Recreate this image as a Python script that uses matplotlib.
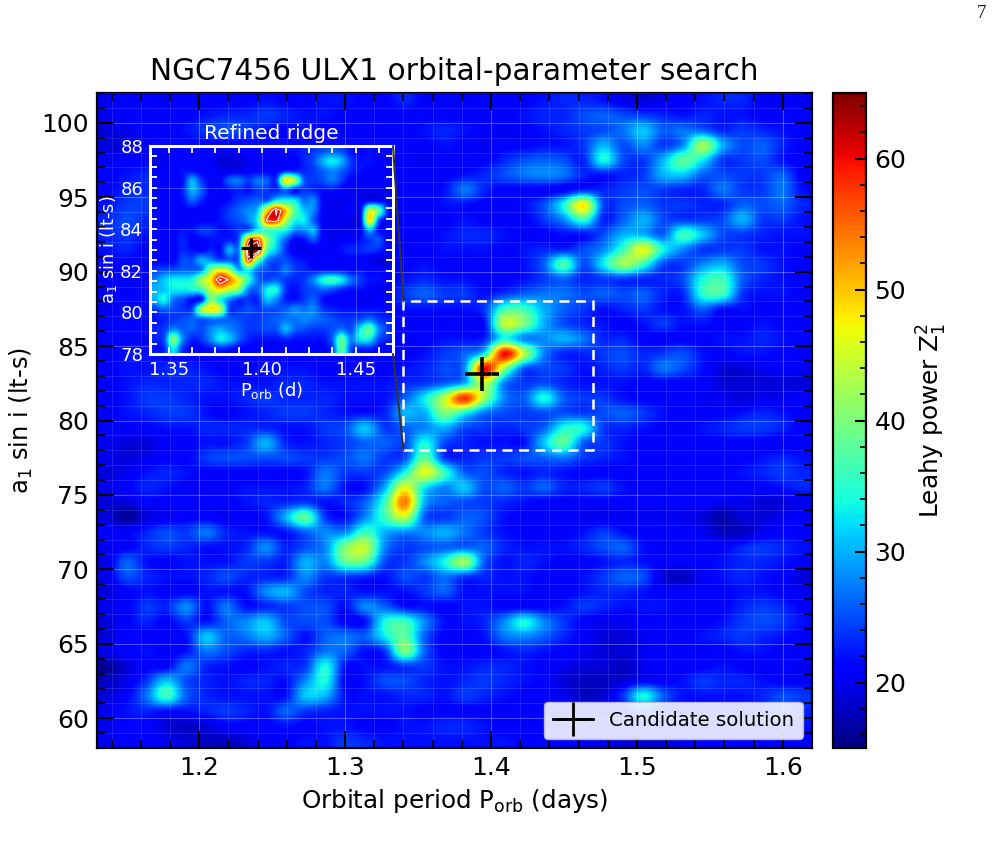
import numpy as np
import matplotlib
matplotlib.use("Agg")
import matplotlib.pyplot as plt
from matplotlib.lines import Line2D
from matplotlib.patches import Rectangle, ConnectionPatch
from matplotlib.ticker import MultipleLocator

plt.rcParams["font.family"] = "DejaVu Sans"
plt.rcParams["mathtext.default"] = "regular"

TITLE = "NGC7456 ULX1 orbital-parameter search"
PERIOD_RANGE = [1.13, 1.62]
A_SINI_RANGE = [58, 102]
POWER_RANGE = [15, 65]
CANDIDATE = [1.394, 83.1]
ZOOM_PERIOD = [1.34, 1.47]
ZOOM_A_SINI = [78, 88]

# Leahy power on the wide search grid, first row at the largest a1 sin i
wide_power = [
    [20,21,21,20,21,21, 21,21,22,21,21,22, 22,21,21,23,21,21, 21,21,21,21,22,23, 23,22,20,19,20,21, 22,23,23,21,21,20],
    [20,21,21,21,21,22, 23,23,24,23,22,22, 21,21,21,21,21,21, 21,21,21,22,23,23, 25,26,25,24,23,22, 23,22,22,21,21,21],
    [19,20,21,21,22,24, 25,24,22,21,22,21, 21,21,21,21,22,23, 22,21,20,21,22,23, 24,25,27,31,26,27, 26,23,24,23,22,21],
    [19,19,20,21,21,21, 21,21,21,21,21,21, 21,21,21,21,21,22, 21,20,21,21,22,22, 24,30,25,28,24,28, 42,30,25,26,23,21],
    [20,21,21,21,21,21, 21,21,21,21,21,21, 21,21,21,21,20,21, 21,21,23,25,26,25, 23,34,25,24,30,38, 33,24,24,25,22,21],
    [21,22,23,21,21,21, 21,21,21,21,21,21, 21,21,21,21,21,21, 22,23,25,27,28,27, 23,22,23,24,30,31, 26,25,24,24,26,21],
    [21,23,23,21,21,21, 21,21,21,21,21,21, 21,21,21,21,21,22, 27,23,21,21,21,21, 23,23,24,25,24,23, 23,27,24,24,27,22],
    [22,24,24,21,21,21, 21,21,21,21,21,21, 21,21,21,21,21,22, 22,21,21,22,25,34, 48,25,25,26,24,24, 23,23,26,25,26,23],
    [23,25,23,21,21,21, 21,21,21,21,21,21, 21,21,21,21,21,21, 22,21,21,21,24,28, 36,23,26,30,25,24, 24,25,30,24,24,22],
    [23,24,22,21,21,21, 21,21,21,21,21,21, 21,21,21,21,21,22, 23,23,22,21,21,22, 22,25,30,30,26,36, 31,25,24,23,22,22],
    [22,23,21,21,21,21, 21,21,21,21,21,21, 21,21,21,21,21,22, 22,22,21,22,23,23, 25,28,36,46,34,28, 24,24,24,22,22,21],
    [21,21,21,21,21,21, 21,21,21,21,21,21, 21,21,21,21,22,21, 21,21,21,22,26,37, 25,33,42,36,25,24, 28,30,25,24,22,21],
    [21,21,20,21,21,21, 21,21,21,21,21,21, 21,21,21,22,23,22, 22,21,21,22,24,26, 23,24,24,23,23,25, 34,36,26,23,22,21],
    [20,21,21,21,21,21, 21,21,21,21,21,21, 21,21,21,24,26,24, 24,22,24,26,27,27, 25,26,25,26,23,23, 35,36,24,22,22,21],
    [20,21,21,21,21,21, 21,21,21,21,21,21, 21,21,21,22,22,22, 22,24,36,36,30,26, 24,22,23,24,22,22, 26,22,22,21,21,21],
    [21,21,21,21,21,21, 21,21,21,21,21,21, 21,21,21,21,21,21, 21,22,44,40,30,25, 23,22,21,22,24,22, 22,21,21,22,21,21],
    [21,21,20,21,21,21, 21,21,21,21,21,21, 21,21,21,21,21,22, 22,23,34,28,28,30, 27,23,23,21,21,21, 21,22,22,23,22,21],
    [21,22,22,21,21,21, 21,21,21,21,21,21, 21,21,21,21,22,24, 26,33,60,44,28,23, 23,24,25,23,24,25, 22,21,22,22,21,21],
    [21,22,22,23,23,22, 21,21,22,22,22,21, 21,21,21,22,23,25, 28,60,42,26,25,24, 22,23,24,23,27,25, 22,19,19,20,21,20],
    [21,22,23,23,23,23, 22,22,22,23,23,22, 22,22,22,23,24,26, 30,44,28,24,25,23, 22,22,22,21,21,21, 21,19,19,19,19,19],
    [21,22,24,24,23,22, 22,23,24,23,23,23, 22,22,22,26,33,44, 58,42,28,26,34,26, 24,24,22,21,21,21, 20,20,19,20,20,21],
    [21,22,23,24,24,22, 21,22,23,24,24,23, 22,22,23,30,30,40, 34,27,25,24,25,25, 24,25,26,24,22,21, 21,21,22,23,22,21],
    [21,21,21,22,22,23, 23,23,23,22,22,24, 25,31,24,26,28,30, 25,24,23,24,26,34, 34,24,23,22,21,21, 22,23,24,24,23,21],
    [20,19,19,21,21,22, 22,24,30,23,22,23, 24,26,26,25,34,25, 23,22,22,22,31,38, 26,24,22,21,21,21, 21,21,21,21,20,21],
    [20,19,20,21,21,24, 25,25,25,25,24,24, 25,27,24,25,38,24, 23,24,24,25,26,27, 24,23,22,21,21,21, 21,21,21,22,23,22],
    [19,20,22,23,22,21, 21,21,21,21,22,27, 24,24,25,34,46,36, 26,25,23,22,23,22, 21,21,21,21,21,21, 21,21,22,23,24,23],
    [20,21,23,22,21,21, 21,22,22,22,23,27, 22,22,30,46,33,28, 31,25,26,24,26,23, 23,24,22,21,21,21, 21,21,21,21,22,23],
    [19,19,21,21,21,21, 21,22,23,23,24,22, 23,26,36,54,30,26, 25,24,23,22,21,21, 21,21,21,21,21,21, 21,20,20,19,19,20],
    [19,16,19,20,21,21, 20,21,22,30,38,24, 22,28,36,44,26,24, 26,25,22,21,21,21, 20,20,20,20,20,20, 19,17,19,19,20,21],
    [21,21,23,25,24,27, 23,22,22,22,26,28, 28,36,30,28,28,30, 27,24,22,21,21,21, 22,24,22,21,21,21, 20,18,18,20,21,21],
    [20,21,23,24,23,22, 22,23,28,23,25,28, 40,44,28,24,25,26, 26,26,23,22,22,22, 23,25,26,22,21,21, 21,21,23,24,23,22],
    [20,26,22,21,22,22, 22,24,24,23,30,28, 38,38,25,24,28,34, 42,26,22,23,22,21, 21,22,23,22,21,21, 21,22,23,23,22,21],
    [20,25,23,22,22,23, 25,23,23,23,28,24, 24,23,22,25,24,27, 24,23,22,22,21,21, 22,24,26,25,19,18, 20,22,23,22,21,19],
    [19,21,22,21,21,22, 22,22,28,30,25,23, 23,22,22,22,24,26, 22,22,22,22,21,21, 22,23,23,22,21,21, 21,21,22,22,21,20],
    [20,21,24,23,28,22, 27,22,23,24,25,25, 22,28,26,22,22,21, 22,22,21,21,21,22, 24,23,22,22,22,21, 21,21,23,24,23,21],
    [19,21,23,21,24,22, 26,28,31,25,25,25, 21,22,34,36,28,22, 22,23,28,34,28,24, 21,20,20,21,21,21, 21,22,24,25,24,22],
    [19,21,21,21,22,31, 26,27,30,26,22,26, 27,26,33,38,26,21, 21,22,27,28,26,23, 21,19,19,20,21,21, 22,23,24,23,22,21],
    [20,21,22,21,22,27, 25,23,23,22,23,27, 26,22,24,40,26,21, 21,21,22,23,22,21, 20,19,19,20,21,21, 21,21,22,22,21,21],
    [16,19,21,21,27,23, 22,21,22,23,24,34, 22,22,22,24,24,22, 22,23,23,22,21,20, 19,19,18,20,21,21, 21,22,21,21,21,20],
    [18,20,24,31,25,23, 22,23,23,22,28,34, 21,22,25,25,23,22, 23,24,23,22,21,19, 18,18,19,21,21,22, 24,23,23,22,21,21],
    [19,21,27,36,26,23, 22,22,22,22,31,30, 22,22,22,23,23,22, 24,23,22,21,21,20, 18,19,24,34,26,22, 22,22,22,23,25,24],
    [20,22,23,22,22,23, 24,23,22,26,24,23, 22,22,22,22,21,21, 21,21,21,21,21,21, 20,21,21,25,22,21, 21,21,22,22,24,23],
    [20,21,21,19,18,19, 21,21,21,22,21,22, 22,21,21,22,22,23, 23,22,21,21,21,21, 20,21,21,21,21,21, 21,21,22,22,22,22],
    [20,21,21,20,19,18, 18,19,21,21,22,22, 24,23,22,22,22,22, 22,22,22,21,21,21, 20,20,19,19,19,20, 21,21,21,21,21,21],
]

# Leahy power on the refined grid around the ridge, first row at a1 sin i = 88
refined_power = [
    [20,20,20,21,21,21, 21,20,20,21,21,21, 21,21,22,22,23,24, 25,26,25,22,21,22, 21,21],
    [19,20,21,21,21,21, 21,19,19,19,20,21, 21,20,21,21,23,25, 30,33,30,24,22,22, 21,20],
    [20,21,21,22,22,21, 21,20,20,20,21,21, 21,21,23,23,23,24, 26,28,26,23,22,21, 21,20],
    [21,21,21,22,30,24, 21,21,26,27,24,27, 26,24,48,42,26,24, 25,27,24,21,21,21, 21,21],
    [21,21,21,23,30,26, 21,21,22,23,22,24, 24,23,26,22,24,23, 22,22,21,20,20,20, 20,20],
    [21,21,21,22,26,23, 21,21,22,24,25,26, 26,33,34,33,27,28, 21,20,20,20,20,21, 21,21],
    [21,21,21,21,21,21, 21,22,24,26,28,31, 48,60,50,38,31,28, 21,20,20,21,21,44, 38,23],
    [21,21,21,21,21,21, 21,22,24,25,28,34, 56,58,44,34,33,26, 21,20,20,20,21,48, 26,21],
    [21,21,21,22,22,24, 24,22,22,24,26,33, 36,36,34,28,28,30, 21,20,20,20,21,30, 22,21],
    [21,21,21,23,21,21, 22,22,23,26,54,58, 42,33,26,21,22,25, 21,20,21,21,22,24, 25,21],
    [21,21,21,23,22,21, 23,22,30,28,62,64, 38,31,24,20,20,20, 21,21,22,23,23,24, 23,21],
    [21,21,21,25,25,30, 28,25,26,27,58,40, 28,25,25,23,22,21, 21,21,21,21,21,20, 19,19],
    [24,25,25,26,26,28, 40,46,42,30,34,27, 25,24,27,24,23,22, 22,22,22,21,22,21, 21,20],
    [28,31,33,33,34,42, 48,60,54,46,36,27, 25,26,24,23,24,28, 34,36,33,27,24,22, 22,21],
    [30,31,33,33,34,36, 44,48,44,40,28,26, 33,34,24,22,24,25, 26,25,23,22,22,21, 20,19],
    [30,34,27,25,22,23, 40,34,28,24,24,23, 31,28,23,22,24,26, 22,21,21,21,20,20, 21,21],
    [24,26,25,24,25,42, 48,44,25,24,25,24, 25,25,26,28,27,28, 24,23,22,22,22,22, 22,21],
    [22,23,24,25,26,26, 27,27,26,25,24,24, 25,26,27,27,28,27, 26,25,24,24,25,27, 24,23],
    [23,24,28,26,26,25, 28,30,28,26,24,24, 25,25,30,26,25,24, 24,25,27,25,33,38, 28,24],
    [23,25,40,28,23,24, 28,33,31,26,23,22, 22,22,23,22,22,22, 22,26,38,28,33,33, 25,23],
    [22,23,33,24,21,21, 22,23,22,21,21,21, 21,21,21,21,21,21, 21,24,38,25,23,23, 21,21],
]

fig = plt.figure(figsize=(9.94, 8.52), dpi=100)
W, H = 994.0, 852.0


def box(left, top, right, bottom):
    return [left / W, 1 - bottom / H, (right - left) / W, (bottom - top) / H]


ax = fig.add_axes(box(97, 93, 812, 748))
image = ax.imshow(wide_power, cmap="jet", vmin=POWER_RANGE[0], vmax=POWER_RANGE[1],
                  extent=[*PERIOD_RANGE, *A_SINI_RANGE], origin="upper",
                  aspect="auto", interpolation="catrom")
ax.set_xlim(PERIOD_RANGE)
ax.set_ylim(A_SINI_RANGE)
ax.xaxis.set_major_locator(MultipleLocator(0.1))
ax.xaxis.set_minor_locator(MultipleLocator(0.02))
ax.yaxis.set_major_locator(MultipleLocator(5))
ax.yaxis.set_minor_locator(MultipleLocator(1))
ax.grid(which="major", color="white", alpha=0.3, lw=0.8)
ax.grid(which="minor", color="white", alpha=0.14, lw=0.6)
ax.set_axisbelow(False)
ax.tick_params(which="major", direction="in", top=True, right=True, length=12, width=1.5,
               labelsize=18, pad=6)
ax.tick_params(which="minor", direction="in", top=True, right=True, length=6, width=1.2)
for spine in ax.spines.values():
    spine.set_linewidth(1.6)
ax.set_title(TITLE, fontsize=21.3, pad=9)
ax.set_xlabel(r"Orbital period P$_{orb}$ (days)", fontsize=17.7, labelpad=5)
ax.set_ylabel(r"a$_1$ sin i (lt-s)", fontsize=17.4, labelpad=4)

ax.plot(*CANDIDATE, marker="+", ms=24, mew=2.6, color="black", ls="none")
ax.add_patch(Rectangle((ZOOM_PERIOD[0], ZOOM_A_SINI[0]), ZOOM_PERIOD[1] - ZOOM_PERIOD[0],
                       ZOOM_A_SINI[1] - ZOOM_A_SINI[0], fill=False, edgecolor="white",
                       lw=1.8, ls=(0, (4, 2.6)), zorder=4))

handle = Line2D([], [], color="black", marker="+", ms=24, mew=2, lw=2)
legend = ax.legend([handle], ["Candidate solution"], loc="lower right", fontsize=14.2,
                   frameon=True, framealpha=0.87, facecolor="white", edgecolor="0.75",
                   handlelength=2.05, borderaxespad=0.45, borderpad=0.45)

cax = fig.add_axes(box(833, 93, 866, 748))
cbar = fig.colorbar(image, cax=cax)
cbar.set_ticks([20, 30, 40, 50, 60])
cbar.ax.yaxis.set_minor_locator(MultipleLocator(2))
cbar.ax.tick_params(which="major", direction="in", length=8, width=1.5, labelsize=18, pad=6)
cbar.ax.tick_params(which="minor", direction="in", length=4, width=1.2)
cbar.outline.set_linewidth(1.6)
cbar.set_label(r"Leahy power Z$_1^2$", fontsize=17.8, labelpad=6)

inset = fig.add_axes(box(150, 146, 393, 354))
inset.imshow(refined_power, cmap="jet", vmin=POWER_RANGE[0], vmax=POWER_RANGE[1],
             extent=[*ZOOM_PERIOD, *ZOOM_A_SINI], origin="upper",
             aspect="auto", interpolation="catrom")
periods = np.linspace(ZOOM_PERIOD[0], ZOOM_PERIOD[1], len(refined_power[0]) + 1)
periods = 0.5 * (periods[:-1] + periods[1:])
a_values = np.linspace(ZOOM_A_SINI[1], ZOOM_A_SINI[0], len(refined_power) + 1)
a_values = 0.5 * (a_values[:-1] + a_values[1:])
inset.contour(periods, a_values, refined_power, levels=[55, 59], colors="white", linewidths=0.7)
inset.set_xlim(ZOOM_PERIOD)
inset.set_ylim(ZOOM_A_SINI)
inset.xaxis.set_major_locator(MultipleLocator(0.05))
inset.xaxis.set_minor_locator(MultipleLocator(0.0125))
inset.yaxis.set_major_locator(MultipleLocator(2))
inset.yaxis.set_minor_locator(MultipleLocator(0.5))
inset.grid(which="major", color="white", alpha=0.25, lw=0.7)
inset.set_axisbelow(False)
inset.tick_params(which="both", direction="in", top=True, right=True, length=5, width=1.3,
                  color="white", labelcolor="white", labelsize=13, pad=5)
for spine in inset.spines.values():
    spine.set_color("white")
    spine.set_linewidth(2.2)
inset.set_title("Refined ridge", color="white", fontsize=14.5, pad=5)
inset.set_xlabel(r"P$_{orb}$ (d)", color="white", fontsize=12.8, labelpad=1)
inset.set_ylabel(r"a$_1$ sin i (lt-s)", color="white", fontsize=12.8, labelpad=1)
inset.plot(*CANDIDATE, marker="+", ms=15, mew=2.3, color="black", ls="none")

for inset_corner, main_corner in [((1, 1), (ZOOM_PERIOD[0], ZOOM_A_SINI[1])),
                                  ((1, 0), (ZOOM_PERIOD[0], ZOOM_A_SINI[0]))]:
    fig.add_artist(ConnectionPatch(xyA=inset_corner, coordsA=inset.transAxes,
                                   xyB=main_corner, coordsB=ax.transData,
                                   color="0.2", lw=1.5, zorder=3))

fig.text(981 / W, 1 - 14 / H, "7", fontsize=13.5, family="Liberation Serif", color="0.1",
         ha="center", va="center")

fig.savefig("out.png", dpi=100)
